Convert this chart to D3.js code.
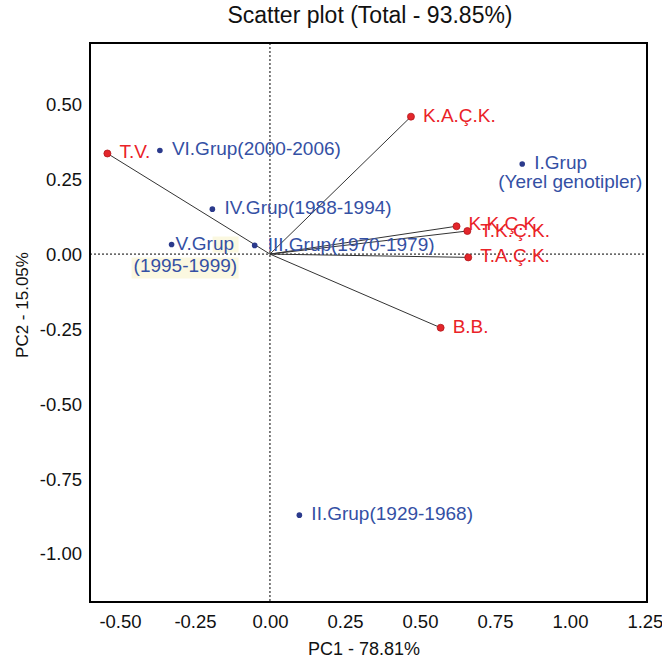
<!DOCTYPE html>
<html>
<head>
<meta charset="utf-8">
<script src="https://cdn.jsdelivr.net/npm/d3@7"></script>
<style>
  body{margin:0;background:#fff;}
  text{font-family:"Liberation Sans",Arial,sans-serif;}
</style>
</head>
<body>
<div id="chartdiv"></div>
<script>
    var svgW=662,svgH=664;
    var plotL=90,plotR=647,plotT=43,plotB=602;
    var redcolor="#ea2228",bluecolor="#3450a4",dotblue="#2b3a8c",vectorcolor="#333333";

    // variables (red, drawn as vectors from the origin)
    var varNames=["T.V.","K.A.Ç.K.","K.K.Ç.K.","T.K.Ç.K.","T.A.Ç.K.","B.B."];
    var varPC1=[-0.542,0.470,0.622,0.658,0.661,0.569];
    var varPC2=[0.336,0.459,0.093,0.077,-0.011,-0.246];

    // groups (blue points), second line of the label after "|"
    var grpNames=["I.Grup|(Yerel genotipler)","II.Grup(1929-1968)","III.Grup(1970-1979)","IV.Grup(1988-1994)","V.Grup|(1995-1999)","VI.Grup(2000-2006)"];
    var grpPC1=[0.841,0.098,-0.051,-0.192,-0.328,-0.367];
    var grpPC2=[0.301,-0.872,0.029,0.150,0.032,0.346];

    var xTicks=[-0.50,-0.25,0.00,0.25,0.50,0.75,1.00,1.25];
    var yTicks=[-1.00,-0.75,-0.50,-0.25,0.00,0.25,0.50];

    var titletext="Scatter plot (Total - 93.85%)";
    var xlabeltext="PC1 - 78.81%";
    var ylabeltext="PC2 - 15.05%";

    // label nudges: [dx1,dy1,dx2,dy2] first and second line
    var labelnudge={"I.Grup":[12,5,-24,24],"V.Grup":[4,5,-38,27],"K.K.Ç.K.":[12,4],"T.K.Ç.K.":[13,6],"III.Grup(1970-1979)":[13,6]};

    var xScale=d3.scaleLinear().domain([-0.6,1.257]).range([plotL,plotR]);
    var yScale=d3.scaleLinear().domain([-1.162,0.705]).range([plotB,plotT]);

    var svg=d3.select("#chartdiv")
        .append("svg")
        .attr("width",svgW)
        .attr("height",svgH);

    svg.append("text")
        .attr("x",370)
        .attr("y",23)
        .attr("text-anchor","middle")
        .style("font-size","23px")
        .attr("fill","#111")
        .text(titletext);

    //##########axes##########
    var xAxis=svg.append("g")
        .attr("transform","translate(0,"+plotB+")")
        .call(d3.axisBottom(xScale).tickValues(xTicks).tickSize(0).tickFormat(function(d){return d.toFixed(2);}));
    xAxis.select(".domain").remove();
    xAxis.selectAll("text")
        .attr("y",26)
        .attr("dy",null)
        .style("font-size","18.5px")
        .style("font-family","'Liberation Sans',Arial,sans-serif")
        .attr("fill","#111");

    var yAxis=svg.append("g")
        .attr("transform","translate("+plotL+",0)")
        .call(d3.axisLeft(yScale).tickValues(yTicks).tickSize(0).tickPadding(8).tickFormat(function(d){return d.toFixed(2);}));
    yAxis.select(".domain").remove();
    yAxis.selectAll("text")
        .attr("dy","0.35em")
        .style("font-size","18.5px")
        .style("font-family","'Liberation Sans',Arial,sans-serif")
        .attr("fill","#111");

    svg.append("text")
        .attr("x",364)
        .attr("y",655)
        .attr("text-anchor","middle")
        .style("font-size","18px")
        .attr("fill","#111")
        .text(xlabeltext);

    svg.append("text")
        .attr("transform","translate(28,305) rotate(-90)")
        .attr("text-anchor","middle")
        .style("font-size","17px")
        .attr("fill","#111")
        .text(ylabeltext);

    //##########highlight behind V.Grup label##########
    var vi=4;
    var vx=xScale(grpPC1[vi]),vy=yScale(grpPC2[vi]);
    svg.append("rect")
        .attr("x",vx+41).attr("y",vy-8)
        .attr("width",26).attr("height",16)
        .attr("fill","#fbf8e0");
    svg.append("rect")
        .attr("x",vx-40).attr("y",vy+13)
        .attr("width",107).attr("height",21)
        .attr("fill","#fbf8e0");

    //##########zero lines##########
    svg.append("line")
        .attr("x1",xScale(0)).attr("x2",xScale(0))
        .attr("y1",plotT).attr("y2",plotB)
        .attr("stroke","#000").attr("stroke-width",1).attr("stroke-dasharray","2,2");
    svg.append("line")
        .attr("x1",plotL).attr("x2",plotR)
        .attr("y1",yScale(0)).attr("y2",yScale(0))
        .attr("stroke","#000").attr("stroke-width",1).attr("stroke-dasharray","2,2");

    //##########vectors##########
    var vardata=varNames.map(function(n,i){return {name:n,x:varPC1[i],y:varPC2[i]};});
    var grpdata=grpNames.map(function(n,i){return {name:n,x:grpPC1[i],y:grpPC2[i]};});

    svg.append("g").selectAll("line")
        .data(vardata)
        .enter()
        .append("line")
        .attr("x1",xScale(0))
        .attr("y1",yScale(0))
        .attr("x2",function(d){return xScale(d.x);})
        .attr("y2",function(d){return yScale(d.y);})
        .attr("stroke",vectorcolor)
        .attr("stroke-width",1);

    //##########points##########
    svg.append("g").selectAll("circle")
        .data(grpdata)
        .enter()
        .append("circle")
        .attr("cx",function(d){return xScale(d.x);})
        .attr("cy",function(d){return yScale(d.y);})
        .attr("r",2.8)
        .attr("fill",dotblue);

    svg.append("g").selectAll("circle")
        .data(vardata)
        .enter()
        .append("circle")
        .attr("cx",function(d){return xScale(d.x);})
        .attr("cy",function(d){return yScale(d.y);})
        .attr("r",3.5)
        .attr("fill","#e3262b")
        .attr("stroke","#b3161a")
        .attr("stroke-width",0.8);

    //##########labels##########
    function drawlabels(data,color){
        data.forEach(function(d){
            var lines=d.name.split("|");
            var nudge=labelnudge[lines[0]]||[12,5];
            var px=xScale(d.x),py=yScale(d.y);
            svg.append("text")
                .attr("x",px+nudge[0])
                .attr("y",py+nudge[1])
                .style("font-size","19px")
                .attr("fill",color)
                .text(lines[0]);
            if(lines.length>1){
                svg.append("text")
                    .attr("x",px+nudge[2])
                    .attr("y",py+nudge[3])
                    .style("font-size","19px")
                    .attr("fill",color)
                    .text(lines[1]);
            }
        });
    }
    drawlabels(grpdata,bluecolor);
    drawlabels(vardata,redcolor);

    //##########frame##########
    svg.append("rect")
        .attr("x",plotL).attr("y",plotT)
        .attr("width",plotR-plotL).attr("height",plotB-plotT)
        .attr("fill","none")
        .attr("stroke","#000")
        .attr("stroke-width",2);
</script>
</body>
</html>
